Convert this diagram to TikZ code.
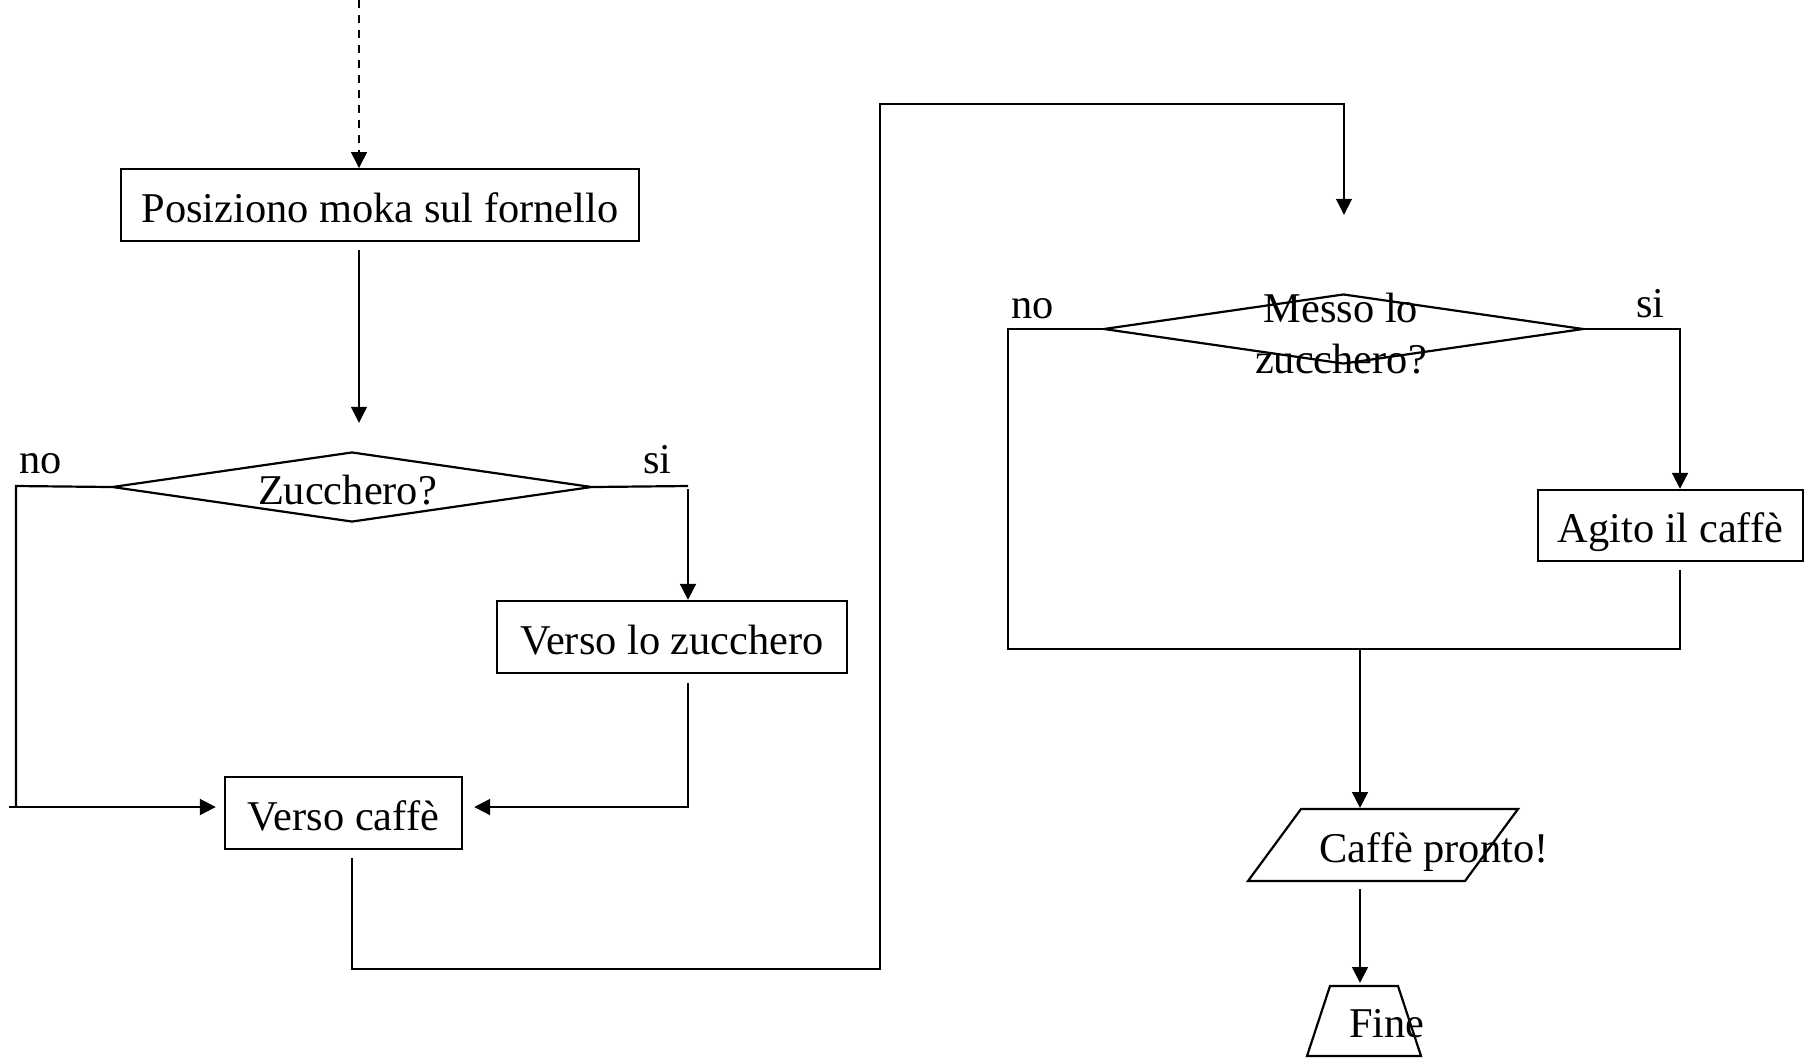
\documentclass[tikz,border=0pt]{standalone}
\usepackage{fontspec}
\setmainfont{Liberation Serif}
\usetikzlibrary{arrows.meta,shapes.geometric,calc}
\newcommand{\fsz}{\fontsize{21.2pt}{25.5pt}\selectfont}
\begin{document}
\begin{tikzpicture}[x=0.5pt,y=-0.5pt,
  thinline/.style={line width=1.1pt},
  thickline/.style={line width=1.45pt},
  arr/.style={-{Triangle[length=8pt,width=7.8pt]}},
  box/.style={draw, rectangle, line width=1.1pt, inner sep=0pt, font=\fsz, text height=17pt, text depth=0pt},
  dec/.style={draw, diamond, line width=1.1pt, inner sep=0pt, minimum width=240pt, minimum height=35pt},
  lbl/.style={font=\fsz, inner sep=0pt, anchor=base west},
  txt/.style={font=\fsz, inner sep=0pt, text height=17pt, text depth=0pt},
  freetxt/.style={font=\fsz, inner sep=0pt, anchor=base},
  outline/.style={line width=1.1pt, line join=miter},
]
\useasboundingbox (0,0) rectangle (1804,1057);

% ---- left part ----
\node[box, minimum width=259pt, minimum height=35.75pt] (b1) at (380,205) {Posiziono moka sul fornello};
\node[dec] (d1) at (352,487) {};
\node[txt] (d1t) at (347.5,487) {Zucchero?};
\node[box, minimum width=175pt, minimum height=36pt] (vlz) at (672,637) {Verso lo zucchero};
\node[box, minimum width=118.5pt, minimum height=36pt] (vc) at (343.5,813) {Verso caffè};

\node[lbl] (no1t) at (19,473) {no};
\node[lbl] (si1t) at (643,473) {si};

% ---- right part ----
\node[dec] (d2) at (1343.5,329) {};
\node[font=\fsz, inner sep=0pt, align=center] (d2t) at (1341,333.5) {Messo lo\\zucchero?};
\node[box, minimum width=132.5pt, minimum height=35.5pt] (ag) at (1670.5,525.5) {Agito il caffè};

\node[lbl] (no2t) at (1011,318) {no};
\node[lbl] (si2t) at (1636,317) {si};

% parallelogram and trapezium outlines
\draw[outline] (1248,881) -- (1301,809) -- (1518,809) -- (1465,881) -- cycle;
\node[freetxt] (cp) at (1434,862) {Caffè pronto!};
\coordinate (cpTop) at (1360,809);
\coordinate (cpBot) at (1360,881);

\draw[outline] (1307,1056) -- (1330,986) -- (1398,986) -- (1421,1056) -- cycle;
\node[freetxt] (fine) at (1387,1037) {Fine};
\coordinate (fineTop) at (1360,986);

% ---- connectors ----
\coordinate (start) at (359,0);
\draw[thinline, arr, dash pattern=on 4pt off 3.5pt] (start) -- (start |- b1.north);
\draw[thinline, arr, shorten <=4pt, shorten >=14pt] (b1.south -| start) -- (d1.north -| start);

% no branch
\coordinate (no1) at (16,486);
\coordinate (vcL) at ($(vc.west)+(0,-6)$);
\draw[thinline] (d1.west) -- (no1) -- (no1 |- vcL);
\draw[thickline, arr, shorten >=4pt] ($(no1 |- vcL)+(-7,0)$) -- (vcL);

% si branch
\coordinate (si1) at (688,486);
\draw[thinline] (d1.east) -- (si1);
\draw[thickline, arr, shorten <=1.5pt] (si1) -- (si1 |- vlz.north);
\coordinate (vcR) at ($(vc.east)+(0,-6)$);
\draw[thickline, arr, shorten <=4.5pt, shorten >=5.5pt] (si1 |- vlz.south) |- (vcR);

% long loop to the right part
\coordinate (loopA) at (880,969);
\coordinate (loopB) at (880,104);
\coordinate (loopC) at (1344,104);
\draw[thinline, arr] ($(vc.south)+(8.5,8)$) |- (loopA) -- (loopB) -- (loopC) -- ($(d2.north)+(0.5,-78)$);

% second decision
\coordinate (noR) at (1008,329);
\coordinate (siR) at (1680,329);
\coordinate (mergeL) at (1008,649);
\coordinate (mergeR) at (1680,649);
\coordinate (merge) at (1360,649);
\draw[thickline] (d2.west) -- (noR) -- (mergeL) -- (mergeR) -- ($(ag.south -| siR)+(0,8)$);
\draw[thickline, arr] (d2.east) -- (siR) -- (siR |- ag.north);

\draw[thickline, arr, shorten >=0.5pt] (merge) -- (cpTop);
\draw[thickline, arr, shorten <=4pt, shorten >=1.5pt] (cpBot) -- (fineTop);
\end{tikzpicture}
\end{document}
